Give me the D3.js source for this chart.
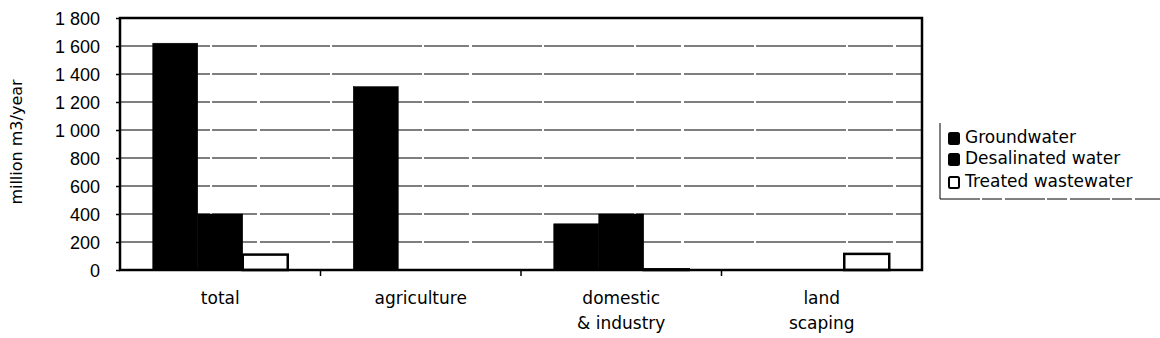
<!DOCTYPE html>
<html>
<head>
<meta charset="utf-8">
<script src="https://cdn.jsdelivr.net/npm/d3@7"></script>
<style>
  body { margin: 0; background: #fff; }
  svg { display: block; font-family: "DejaVu Sans", Verdana, sans-serif; }
</style>
</head>
<body>
<div id="chart"></div>
<script>
// data
var categories = ["total", "agriculture", "domestic|& industry", "land|scaping"];
var seriesNames = ["Groundwater", "Desalinated water", "Treated wastewater"];
var groundwater = [1620, 1310, 330, 0];
var desalinated = [400, 0, 400, 0];
var treated = [110, 0, 5, 115];
var yTicks = [0, 200, 400, 600, 800, 1000, 1200, 1400, 1600, 1800];

var svgWidth = 1160, svgHeight = 338;
var margin = { top: 18, right: 238, bottom: 68, left: 120 };
var chartWidth = svgWidth - margin.left - margin.right;
var chartHeight = svgHeight - margin.top - margin.bottom;

var svg = d3.select("#chart").append("svg")
    .attr("width", svgWidth)
    .attr("height", svgHeight);

var chartGroup = svg.append("g")
    .attr("transform", `translate(${margin.left}, ${margin.top})`);

// scales
var xScale = d3.scaleBand()
    .domain(categories)
    .range([0, chartWidth]);
var barW = 45;
var xInner = d3.scaleBand()
    .domain(seriesNames)
    .range([(xScale.bandwidth() - 3 * barW) / 2, (xScale.bandwidth() + 3 * barW) / 2]);
var yScale = d3.scaleLinear()
    .domain([0, 1800])
    .range([chartHeight, 0]);

// thousands separated by a space, like "1 800"
function fmt(v) {
    var s = String(v);
    if (s.length > 3) s = s.slice(0, s.length - 3) + " " + s.slice(-3);
    return s;
}

// gridlines
chartGroup.append("g")
    .selectAll("line")
    .data(yTicks.slice(1, -1))
    .enter().append("line")
    .attr("x1", 0).attr("x2", chartWidth)
    .attr("y1", d => yScale(d)).attr("y2", d => yScale(d))
    .attr("stroke", "#000")
    .attr("stroke-width", 1.2)
    .attr("stroke-dasharray", "90,2,45,3,70,2");

// y axis
var leftAxis = d3.axisLeft(yScale)
    .tickValues(yTicks)
    .tickFormat(fmt)
    .tickSize(4)
    .tickPadding(16);
var yAxis = chartGroup.append("g").call(leftAxis);
yAxis.select(".domain").remove();
yAxis.selectAll("line").attr("stroke", "#000").attr("stroke-width", 1.5);
yAxis.selectAll("text")
    .attr("font-size", 18)
    .attr("fill", "#000")
    .attr("dy", "0.36em")
    .style("white-space", "pre");

// x axis ticks at category boundaries
var bottomAxis = d3.axisBottom(xScale).tickSize(0).tickFormat("");
var xAxis = chartGroup.append("g")
    .attr("transform", `translate(0, ${chartHeight})`)
    .call(bottomAxis);
xAxis.select(".domain").remove();
xAxis.selectAll("line.bound")
    .data(categories.slice(1))
    .enter().append("line")
    .attr("class", "bound")
    .attr("x1", d => xScale(d)).attr("x2", d => xScale(d))
    .attr("y1", 0).attr("y2", 6)
    .attr("stroke", "#000").attr("stroke-width", 1.5);

// category labels
var catLabels = chartGroup.append("g")
    .selectAll("text")
    .data(categories)
    .enter().append("text")
    .attr("x", d => xScale(d) + xScale.bandwidth() / 2)
    .attr("y", chartHeight + 34)
    .attr("text-anchor", "middle")
    .attr("font-size", 17)
    .attr("fill", "#000");
catLabels.each(function(d) {
    var parts = d.split("|");
    var t = d3.select(this);
    parts.forEach(function(p, i) {
        t.append("tspan")
            .attr("x", t.attr("x"))
            .attr("dy", i === 0 ? 0 : 25)
            .text(p);
    });
});

// bars
var series = [groundwater, desalinated, treated];
var fills = ["#000", "#000", "#fff"];
series.forEach(function(vals, si) {
    chartGroup.append("g")
        .selectAll("rect")
        .data(categories.map((c, i) => ({ cat: c, v: vals[i] })).filter(d => d.v > 0))
        .enter().append("rect")
        .attr("x", d => xScale(d.cat) + xInner(seriesNames[si]))
        .attr("y", d => yScale(d.v))
        .attr("width", barW)
        .attr("height", d => chartHeight - yScale(d.v))
        .attr("fill", fills[si])
        .attr("stroke", "#000")
        .attr("stroke-width", si === 2 ? 2.5 : 0.5);
});

// plot frame
chartGroup.append("rect")
    .attr("x", 0).attr("y", 0)
    .attr("width", chartWidth).attr("height", chartHeight)
    .attr("fill", "none")
    .attr("stroke", "#000")
    .attr("stroke-width", 2.5);

// y label
svg.append("text")
    .attr("transform", "translate(22, 142) rotate(-90)")
    .attr("text-anchor", "middle")
    .attr("font-size", 16)
    .attr("fill", "#000")
    .text("million m3/year");

// legend
var legend = svg.append("g");
legend.append("line")
    .attr("x1", 940).attr("x2", 940).attr("y1", 123).attr("y2", 199)
    .attr("stroke", "#000").attr("stroke-width", 1);
legend.append("line")
    .attr("x1", 940).attr("x2", svgWidth).attr("y1", 199).attr("y2", 199)
    .attr("stroke", "#000").attr("stroke-width", 1)
    .attr("stroke-dasharray", "40,2,20,3");
var legY = [137, 158, 181];
seriesNames.forEach(function(name, i) {
    legend.append("rect")
        .attr("x", 949).attr("y", legY[i] - 4)
        .attr("width", 10).attr("height", 11)
        .attr("rx", 1.5)
        .attr("fill", fills[i])
        .attr("stroke", "#000")
        .attr("stroke-width", 2);
    legend.append("text")
        .attr("x", 965).attr("y", legY[i])
        .attr("dy", "0.36em")
        .attr("font-size", 17)
        .attr("fill", "#000")
        .text(name);
});
</script>
</body>
</html>
